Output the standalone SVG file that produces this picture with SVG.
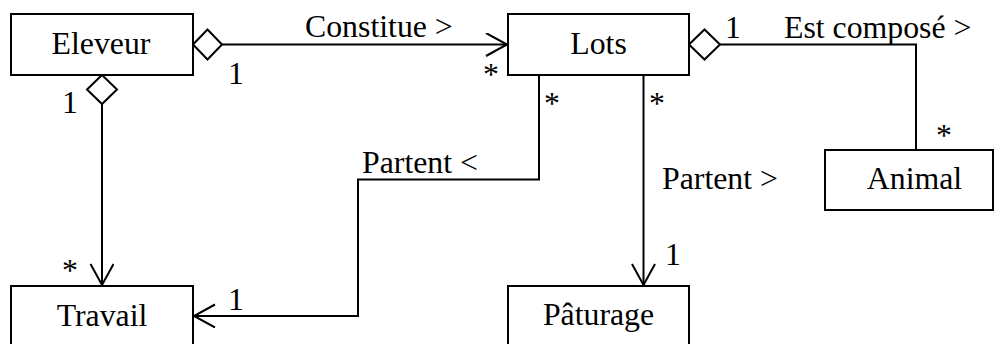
<svg xmlns="http://www.w3.org/2000/svg" width="994" height="344" viewBox="0 0 994 344">
  <style>
    .box { fill: #fff; stroke: #000; stroke-width: 2; }
    .lbl { font-family: "Liberation Serif", "Times New Roman", serif; font-size: 31.8px; fill: #000; }
    .mid { text-anchor: middle; }
    .edge { fill: none; stroke: #000; stroke-width: 2; }
    .diamond { fill: #fff; stroke: #000; stroke-width: 2; }
  </style>
  <defs>
    <marker id="open-arrow" markerWidth="26" markerHeight="26" refX="22" refY="12" orient="auto" markerUnits="userSpaceOnUse">
      <path d="M1,0.5 L22,12 L1,23.5" fill="none" stroke="#000" stroke-width="2"/>
    </marker>
  </defs>
  <rect width="994" height="344" fill="#fff"/>

  <g id="connectors">
    <!-- Eleveur -> Lots (Constitue) -->
    <path class="edge" d="M222,44.5 H507" marker-end="url(#open-arrow)"/>
    <polygon class="diamond" points="193,44.5 207.5,29.5 222,44.5 207.5,59.5"/>
    <text class="lbl" x="305" y="37">Constitue &gt;</text>
    <text class="lbl" x="228" y="84">1</text>
    <text class="lbl" x="483" y="85">*</text>

    <!-- Eleveur -> Travail -->
    <path class="edge" d="M102,104 V285" marker-end="url(#open-arrow)"/>
    <polygon class="diamond" points="102,75 117,89.5 102,104 87,89.5"/>
    <text class="lbl" x="62" y="113">1</text>
    <text class="lbl" x="62" y="281">*</text>

    <!-- Lots -> Travail (Partent <) -->
    <path class="edge" d="M539,75 V179.5 H358 V316 H194" marker-end="url(#open-arrow)"/>
    <text class="lbl" x="362" y="173">Partent &lt;</text>
    <text class="lbl" x="544" y="114">*</text>
    <text class="lbl" x="228" y="310">1</text>

    <!-- Lots -> Paturage (Partent >) -->
    <path class="edge" d="M643.5,75 V285" marker-end="url(#open-arrow)"/>
    <text class="lbl" x="662" y="189">Partent &gt;</text>
    <text class="lbl" x="649" y="114">*</text>
    <text class="lbl" x="665" y="265">1</text>

    <!-- Lots -> Animal (Est composé) -->
    <path class="edge" d="M720,44.5 H916 V150"/>
    <polygon class="diamond" points="689,44.5 704.5,29.5 720,44.5 704.5,59.5"/>
    <text class="lbl" x="725" y="38">1</text>
    <text class="lbl" x="784" y="38">Est composé &gt;</text>
    <text class="lbl" x="936" y="146">*</text>
  </g>

  <g id="eleveur">
    <rect class="box" x="11" y="14" width="182" height="61"/>
    <text class="lbl mid" x="101" y="54">Eleveur</text>
  </g>
  <g id="lots">
    <rect class="box" x="508" y="14" width="181" height="61"/>
    <text class="lbl mid" x="598.5" y="54">Lots</text>
  </g>
  <g id="animal">
    <rect class="box" x="825" y="150" width="168" height="60"/>
    <text class="lbl mid" x="914.5" y="189">Animal</text>
  </g>
  <g id="travail">
    <rect class="box" x="11" y="286" width="182" height="61"/>
    <text class="lbl mid" x="102" y="326">Travail</text>
  </g>
  <g id="paturage">
    <rect class="box" x="508" y="286" width="181" height="61"/>
    <text class="lbl mid" x="598.5" y="325">Pâturage</text>
  </g>
</svg>
